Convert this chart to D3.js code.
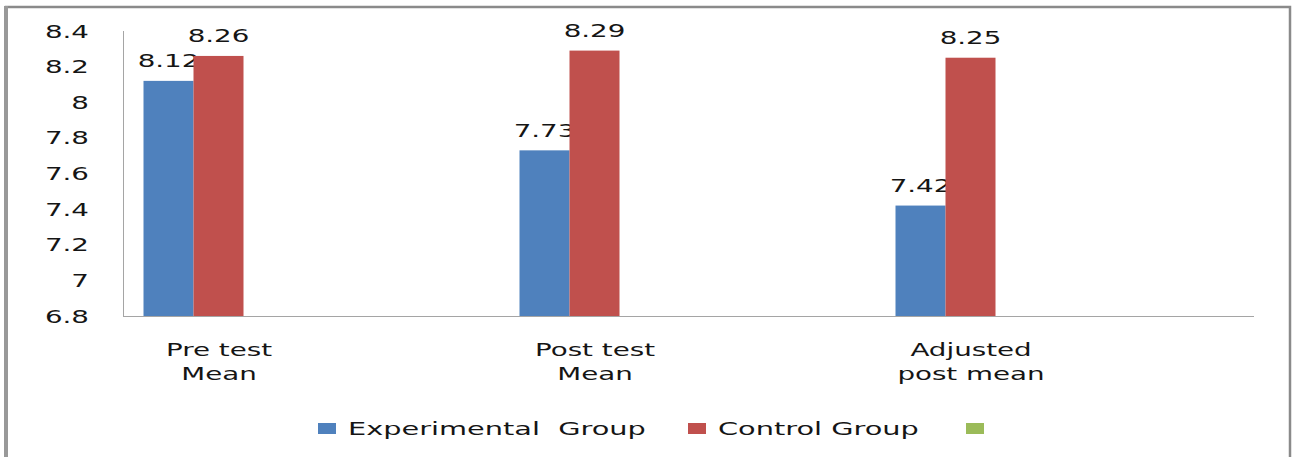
<!DOCTYPE html>
<html><head><meta charset="utf-8">
<script src="https://cdn.jsdelivr.net/npm/d3@7/dist/d3.min.js"></script>
<style>
body{margin:0;background:#fff}
svg{display:block}
text{font-family:"DejaVu Sans",sans-serif;font-size:18px;fill:#151515;white-space:pre}
</style>
</head><body>
<svg id="chart" width="1292" height="457"></svg>
<script>
// ---- data ----
const categories = ["Pre test\nMean", "Post test\nMean", "Adjusted\npost mean"];
const seriesNames = ["Experimental  Group", "Control Group", ""];
const experimental = [8.12, 7.73, 7.42];
const control = [8.26, 8.29, 8.25];
const thirdSeries = [null, null, null];
const yTickValues = [6.8, 7.0, 7.2, 7.4, 7.6, 7.8, 8.0, 8.2, 8.4];
const yTickLabels = ["6.8", "7", "7.2", "7.4", "7.6", "7.8", "8", "8.2", "8.4"];
const colors = ["#4F81BD", "#C0504D", "#9BBB59"];

// ---- layout ----
const SX = 1.54;   // horizontal stretch of the original text
const SXL = 1.6;   // legend text stretch
const svg = d3.select("#chart");
const plot = {left: 123, right: 1254, top: 31, bottom: 316};

const x = d3.scaleBand().domain(categories).range([31, 1159]);
const xSub = d3.scaleBand().domain(seriesNames).range([-75.5, 74.5]);
const y = d3.scaleLinear().domain([6.8, 8.4]).range([plot.bottom, plot.top]);

function sText(parent, tx, ty, str, anchor, sx) {
  const g = parent.append("g").attr("transform", `translate(${tx},${ty})`);
  g.append("text").attr("transform", `scale(${sx || SX},1)`).attr("text-anchor", anchor).text(str);
  return g;
}

// outer frame
svg.append("rect").attr("x", 6).attr("y", 7).attr("width", 1284).attr("height", 480)
  .attr("fill", "none").attr("stroke", "#8a8a8a").attr("stroke-width", 2.5);
svg.append("line").attr("x1", 6).attr("x2", 6).attr("y1", 6).attr("y2", 457)
  .attr("stroke", "#999").attr("stroke-width", 4);

// y axis labels (no tick marks)
const yAxisG = svg.append("g");
yTickValues.forEach((v, i) => sText(yAxisG, 89, y(v) + 6.5, yTickLabels[i], "end"));

// bars
const series = [experimental, control, thirdSeries];
const barsG = svg.append("g");
series.forEach((vals, si) => {
  const data = categories.map((c, ci) => ({c, v: vals[ci]})).filter(d => d.v != null);
  barsG.selectAll(null).data(data).enter().append("rect")
    .attr("x", d => x(d.c) + x.bandwidth() / 2 + xSub(seriesNames[si]))
    .attr("width", xSub.bandwidth())
    .attr("y", d => y(d.v))
    .attr("height", d => y(6.8) - y(d.v))
    .attr("fill", colors[si]);
  data.forEach(d => sText(barsG,
    x(d.c) + x.bandwidth() / 2 + xSub(seriesNames[si]) + xSub.bandwidth() / 2,
    y(d.v) - 13.5, d3.format(".2f")(d.v), "middle"));
});

// axes lines
const axisColor = "#a5a5a5";
svg.append("line").attr("x1", plot.left + 0.5).attr("x2", plot.left + 0.5)
  .attr("y1", plot.top).attr("y2", plot.bottom).attr("stroke", axisColor);
svg.append("line").attr("x1", plot.left).attr("x2", plot.right)
  .attr("y1", plot.bottom + 0.5).attr("y2", plot.bottom + 0.5).attr("stroke", axisColor);

// category labels
const catG = svg.append("g");
categories.forEach(c => {
  const lines = c.split("\n");
  lines.forEach((ln, li) => sText(catG, x(c) + x.bandwidth() / 2, 356 + li * 24, ln, "middle"));
});

// legend
const legendX = [318, 688, 966];
const legG = svg.append("g");
seriesNames.forEach((name, i) => {
  legG.append("rect").attr("x", legendX[i]).attr("y", 423).attr("width", 18).attr("height", 11)
    .attr("fill", colors[i]);
  if (name) sText(legG, legendX[i] + 30, 435, name, "start", SXL);
});
</script>
</body></html>
